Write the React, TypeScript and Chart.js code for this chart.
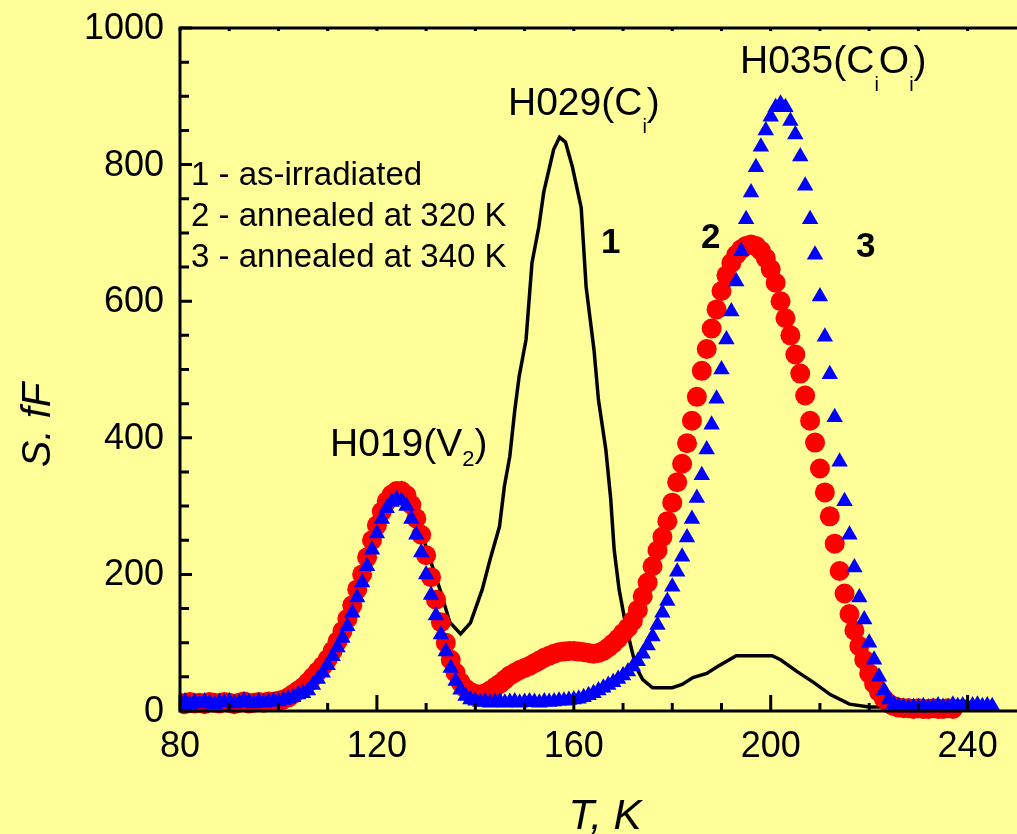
import React, { useEffect, useRef } from "react";
import { Chart, registerables } from "chart.js";

Chart.register(...registerables);

// ---------- data ----------
const temperatures = [
  80, 81, 82, 83, 84, 85, 86, 87, 88, 89,
  90, 91, 92, 93, 94, 95, 96, 97, 98, 99,
  100, 101, 102, 103, 104, 105, 106, 107, 108, 109,
  110, 111, 112, 113, 114, 115, 116, 117, 118, 119,
  120, 121, 122, 123, 124, 125, 126, 127, 128, 129,
  130, 131, 132, 133, 134, 135, 136, 137, 138, 139,
  140, 141, 142, 143, 144, 145, 146, 147, 148, 149,
  150, 151, 152, 153, 154, 155, 156, 157, 158, 159,
  160, 161, 162, 163, 164, 165, 166, 167, 168, 169,
  170, 171, 172, 173, 174, 175, 176, 177, 178, 179,
  180, 181, 182, 183, 184, 185, 186, 187, 188, 189,
  190, 191, 192, 193, 194, 195, 196, 197, 198, 199,
  200, 201, 202, 203, 204, 205, 206, 207, 208, 209,
  210, 211, 212, 213, 214, 215, 216, 217, 218, 219,
  220, 221, 222, 223, 224, 225, 226, 227, 228, 229,
  230, 231, 232, 233, 234, 235, 236, 237, 238, 239,
  240, 241, 242, 243, 244, 245,
];

// curve 2 - annealed at 320 K (red circles), from 80 K
const annealed320 = [
  12, 10, 13, 11, 12, 10, 13, 12, 11, 13,
  12, 10, 12, 14, 11, 12, 13, 12, 14, 13,
  15, 17, 20, 25, 30, 35, 42, 50, 58, 66,
  76, 88, 102, 117, 135, 155, 178, 200, 225, 250,
  272, 292, 307, 317, 322, 322, 316, 302, 282, 258,
  228, 196, 163, 130, 100, 75, 56, 42, 33, 28,
  25, 24, 26, 30, 35, 40, 46, 52, 56, 60,
  63, 66, 70, 74, 78, 81, 84, 86, 87, 88,
  88, 87, 86, 85, 84, 85, 88, 93, 99, 106,
  114, 122, 132, 148, 168, 188, 212, 235, 255, 278,
  305, 335, 362, 392, 425, 460, 498, 530, 560, 588,
  615, 638, 656, 668, 676, 681, 683, 681, 674, 663,
  647, 627, 600, 575, 550, 522, 494, 462, 425, 393,
  355, 320, 285, 245, 205, 172, 142, 118, 95, 75,
  55, 40, 28, 18, 11, 7, 5, 4, 4, 3,
  4, 3, 3, 4, 3, 3, 4, 3,
];

// curve 3 - annealed at 340 K (blue triangles), from 80 K
const annealed340 = [
  12, 14, 10, 13, 11, 14, 12, 10, 13, 12,
  14, 11, 12, 15, 13, 11, 14, 12, 13, 15,
  14, 16, 18, 20, 24, 26, 30, 38, 47, 56,
  67, 80, 93, 107, 124, 144, 166, 188, 212, 236,
  260, 281, 297, 306, 310, 308, 300, 281, 258, 232,
  200, 170, 140, 112, 87, 63, 44, 31, 22, 17,
  15, 13, 14, 12, 13, 14, 12, 13, 14, 12,
  13, 14, 13, 12, 14, 13, 14, 15, 15, 16,
  17, 18, 20, 23, 26, 30, 34, 38, 42, 47,
  52, 58, 65, 73, 84, 96, 109, 126, 144, 161,
  182, 204, 226, 254, 281, 312, 345, 383, 419, 457,
  500, 544, 585, 629, 673, 720, 759, 796, 826, 850,
  870, 884, 889, 884, 864, 844, 812, 769, 720, 668,
  607, 548, 493, 430, 365, 307, 258, 210, 166, 134,
  100, 75, 50, 30, 17, 10, 7, 6, 5, 6,
  5, 7, 5, 6, 8, 6, 5, 9, 7, 8,
  6, 8, 9, 7, 8, 7,
];

// curve 1 - as-irradiated (black line)
const irradiatedT = [
  80, 90, 101, 104, 106, 108, 110, 112, 114, 116, 118, 120, 122, 124, 125, 126,
  128, 130.8, 133, 134.8, 137, 139, 141.4, 143, 144.9, 145.9, 147, 148, 148.9,
  150.3, 151.5, 152.9, 153.9, 155.9, 157.1, 158.3, 159.7, 161.5, 162.5, 164.1,
  165, 166.5, 167.5, 168.2, 169.2, 170.6, 172.6, 174, 176, 180, 182, 184.2, 187,
  189.2, 193, 200.3, 202, 205.3, 208.7, 212.1, 216, 220, 232, 232.8, 240.2,
];
const irradiatedS = [
  20, 22, 22, 30, 40, 55, 75, 105, 140, 180, 225, 270, 305, 328, 334, 325,
  285, 222, 174, 130, 113, 129, 178, 222, 270, 329, 373, 440, 490,
  544, 656, 709, 760, 822, 840, 833, 797, 737, 621, 529,
  456, 383, 310, 236, 178, 124, 65, 46, 34, 34, 39, 49, 55,
  65, 81, 81, 75, 58, 42, 24, 10, 6, 6, 14, 14,
];

const xMajorTicks = [80, 120, 160, 200, 240];
const yMajorTicks = [0, 200, 400, 600, 800, 1000];
const xMinorStep = 10;
const yMinorStep = 50;
const legendLines = ["1 - as-irradiated", "2 - annealed at 320 K", "3 - annealed at 340 K"];
const curveNumbers = ["1", "2", "3"];

const FONT = '"Liberation Sans", Arial, Helvetica, sans-serif';
const BG = "#FFFF99";

type Run = { t: string; size: number; dy?: number; style?: string };

function drawRuns(ctx: CanvasRenderingContext2D, x: number, y: number, runs: Run[]) {
  let cx = x;
  ctx.textAlign = "left";
  ctx.textBaseline = "alphabetic";
  for (const r of runs) {
    ctx.font = `${r.style || ""} ${r.size}px ${FONT}`;
    ctx.fillText(r.t, cx, y + (r.dy || 0));
    cx += ctx.measureText(r.t).width;
  }
}

const decorPlugin = {
  id: "decor",
  beforeDraw(chart: any) {
    const ctx = chart.ctx as CanvasRenderingContext2D;
    ctx.save();
    ctx.fillStyle = BG;
    ctx.fillRect(0, 0, chart.width, chart.height);
    ctx.restore();
  },
  afterDatasetsDraw(chart: any) {
    const ctx = chart.ctx as CanvasRenderingContext2D;
    const xs = chart.scales.x;
    const ys = chart.scales.y;
    const left = xs.getPixelForValue(80);
    const bottom = ys.getPixelForValue(0);
    const top = ys.getPixelForValue(1000);
    const right = chart.width;

    ctx.save();
    ctx.strokeStyle = "#000";
    ctx.fillStyle = "#000";
    ctx.lineWidth = 3;
    ctx.lineCap = "butt";

    // axis lines
    ctx.beginPath();
    ctx.moveTo(left, top);
    ctx.lineTo(left, bottom);
    ctx.moveTo(left - 1.5, bottom);
    ctx.lineTo(right, bottom);
    ctx.moveTo(left - 1.5, top);
    ctx.lineTo(right, top);
    ctx.stroke();

    // x ticks (bottom inward, top short)
    ctx.beginPath();
    for (let v = 80; v <= xs.max; v += xMinorStep) {
      const px = xs.getPixelForValue(v);
      const major = xMajorTicks.includes(v);
      ctx.moveTo(px, bottom);
      ctx.lineTo(px, bottom - (major ? 16 : 8));
      ctx.moveTo(px, top);
      ctx.lineTo(px, top + 3);
    }
    // y ticks
    for (let v = 0; v <= 1000; v += yMinorStep) {
      const py = ys.getPixelForValue(v);
      const major = yMajorTicks.includes(v);
      ctx.moveTo(left, py);
      ctx.lineTo(left + (major ? 12 : 9), py);
    }
    ctx.stroke();

    // tick labels
    ctx.font = `36px ${FONT}`;
    ctx.textAlign = "right";
    ctx.textBaseline = "middle";
    for (const v of yMajorTicks) {
      ctx.fillText(String(v), 164, ys.getPixelForValue(v) + 1);
    }
    ctx.textAlign = "center";
    for (const v of xMajorTicks) {
      ctx.fillText(String(v), xs.getPixelForValue(v), 747);
    }

    // axis titles
    ctx.font = `italic 42px ${FONT}`;
    ctx.textAlign = "center";
    ctx.textBaseline = "alphabetic";
    ctx.fillText("T, K", 605, 829);
    ctx.save();
    ctx.translate(50, 425);
    ctx.rotate(-Math.PI / 2);
    ctx.font = `italic 40px ${FONT}`;
    ctx.fillText("S. fF", 0, 0);
    ctx.restore();

    // peak labels
    drawRuns(ctx, 330, 456, [
      { t: "H019(V", size: 39 },
      { t: "2", size: 22, dy: 10 },
      { t: ")", size: 39 },
    ]);
    drawRuns(ctx, 508, 115, [
      { t: "H029(C", size: 39 },
      { t: "i", size: 20, dy: 18 },
      { t: ")", size: 39 },
    ]);
    drawRuns(ctx, 740, 73, [
      { t: "H035(C", size: 39 },
      { t: "i", size: 20, dy: 18 },
      { t: "O", size: 39 },
      { t: "i", size: 20, dy: 18 },
      { t: ")", size: 39 },
    ]);

    // curve numbers
    ctx.font = `bold 35px ${FONT}`;
    ctx.textAlign = "left";
    ctx.textBaseline = "alphabetic";
    ctx.fillText(curveNumbers[0], 601, 253);
    ctx.fillText(curveNumbers[1], 701, 248);
    ctx.fillText(curveNumbers[2], 856, 257);

    // legend text
    ctx.font = `33px ${FONT}`;
    const baselines = [185, 226, 267];
    legendLines.forEach((t, i) => ctx.fillText(t, 191, baselines[i]));

    ctx.restore();
  },
};

export default function App() {
  const canvasRef = useRef<HTMLCanvasElement | null>(null);

  useEffect(() => {
    document.body.style.margin = "0";
    document.body.style.background = BG;
    const canvas = canvasRef.current;
    if (!canvas) return;

    const redPts = annealed320.map((s, i) => ({ x: temperatures[i], y: s }));
    const bluePts = annealed340.map((s, i) => ({ x: temperatures[i], y: s }));
    const blackPts = irradiatedS.map((s, i) => ({ x: irradiatedT[i], y: s }));
    const clip = { left: 0, top: false, right: false, bottom: false } as any;

    const chart = new Chart(canvas, {
      type: "scatter",
      data: {
        datasets: [
          {
            label: "3 - annealed at 340 K",
            data: bluePts,
            pointStyle: "triangle",
            pointRadius: 9.5,
            pointBackgroundColor: "#0000FF",
            pointBorderWidth: 0,
            borderWidth: 0,
            showLine: false,
            clip,
          },
          {
            label: "2 - annealed at 320 K",
            data: redPts,
            pointStyle: "circle",
            pointRadius: 10,
            pointBackgroundColor: "#FF0000",
            pointBorderWidth: 0,
            borderWidth: 0,
            showLine: false,
            clip,
          },
          {
            label: "1 - as-irradiated",
            data: blackPts,
            showLine: true,
            borderColor: "#000000",
            borderWidth: 3.5,
            pointRadius: 0,
            tension: 0,
            clip,
          },
        ],
      },
      options: {
        responsive: false,
        animation: false,
        events: [],
        layout: { padding: { left: 180, top: 28, right: 0, bottom: 123 } },
        scales: {
          x: { type: "linear", min: 80, max: 248, display: false },
          y: { type: "linear", min: 0, max: 1000, display: false },
        },
        plugins: {
          legend: { display: false },
          tooltip: { enabled: false },
        },
      },
      plugins: [decorPlugin],
    });

    return () => chart.destroy();
  }, []);

  return (
    <canvas
      ref={canvasRef}
      width={1017}
      height={834}
      style={{ position: "absolute", left: 0, top: 0, display: "block", width: 1017, height: 834 }}
    />
  );
}
